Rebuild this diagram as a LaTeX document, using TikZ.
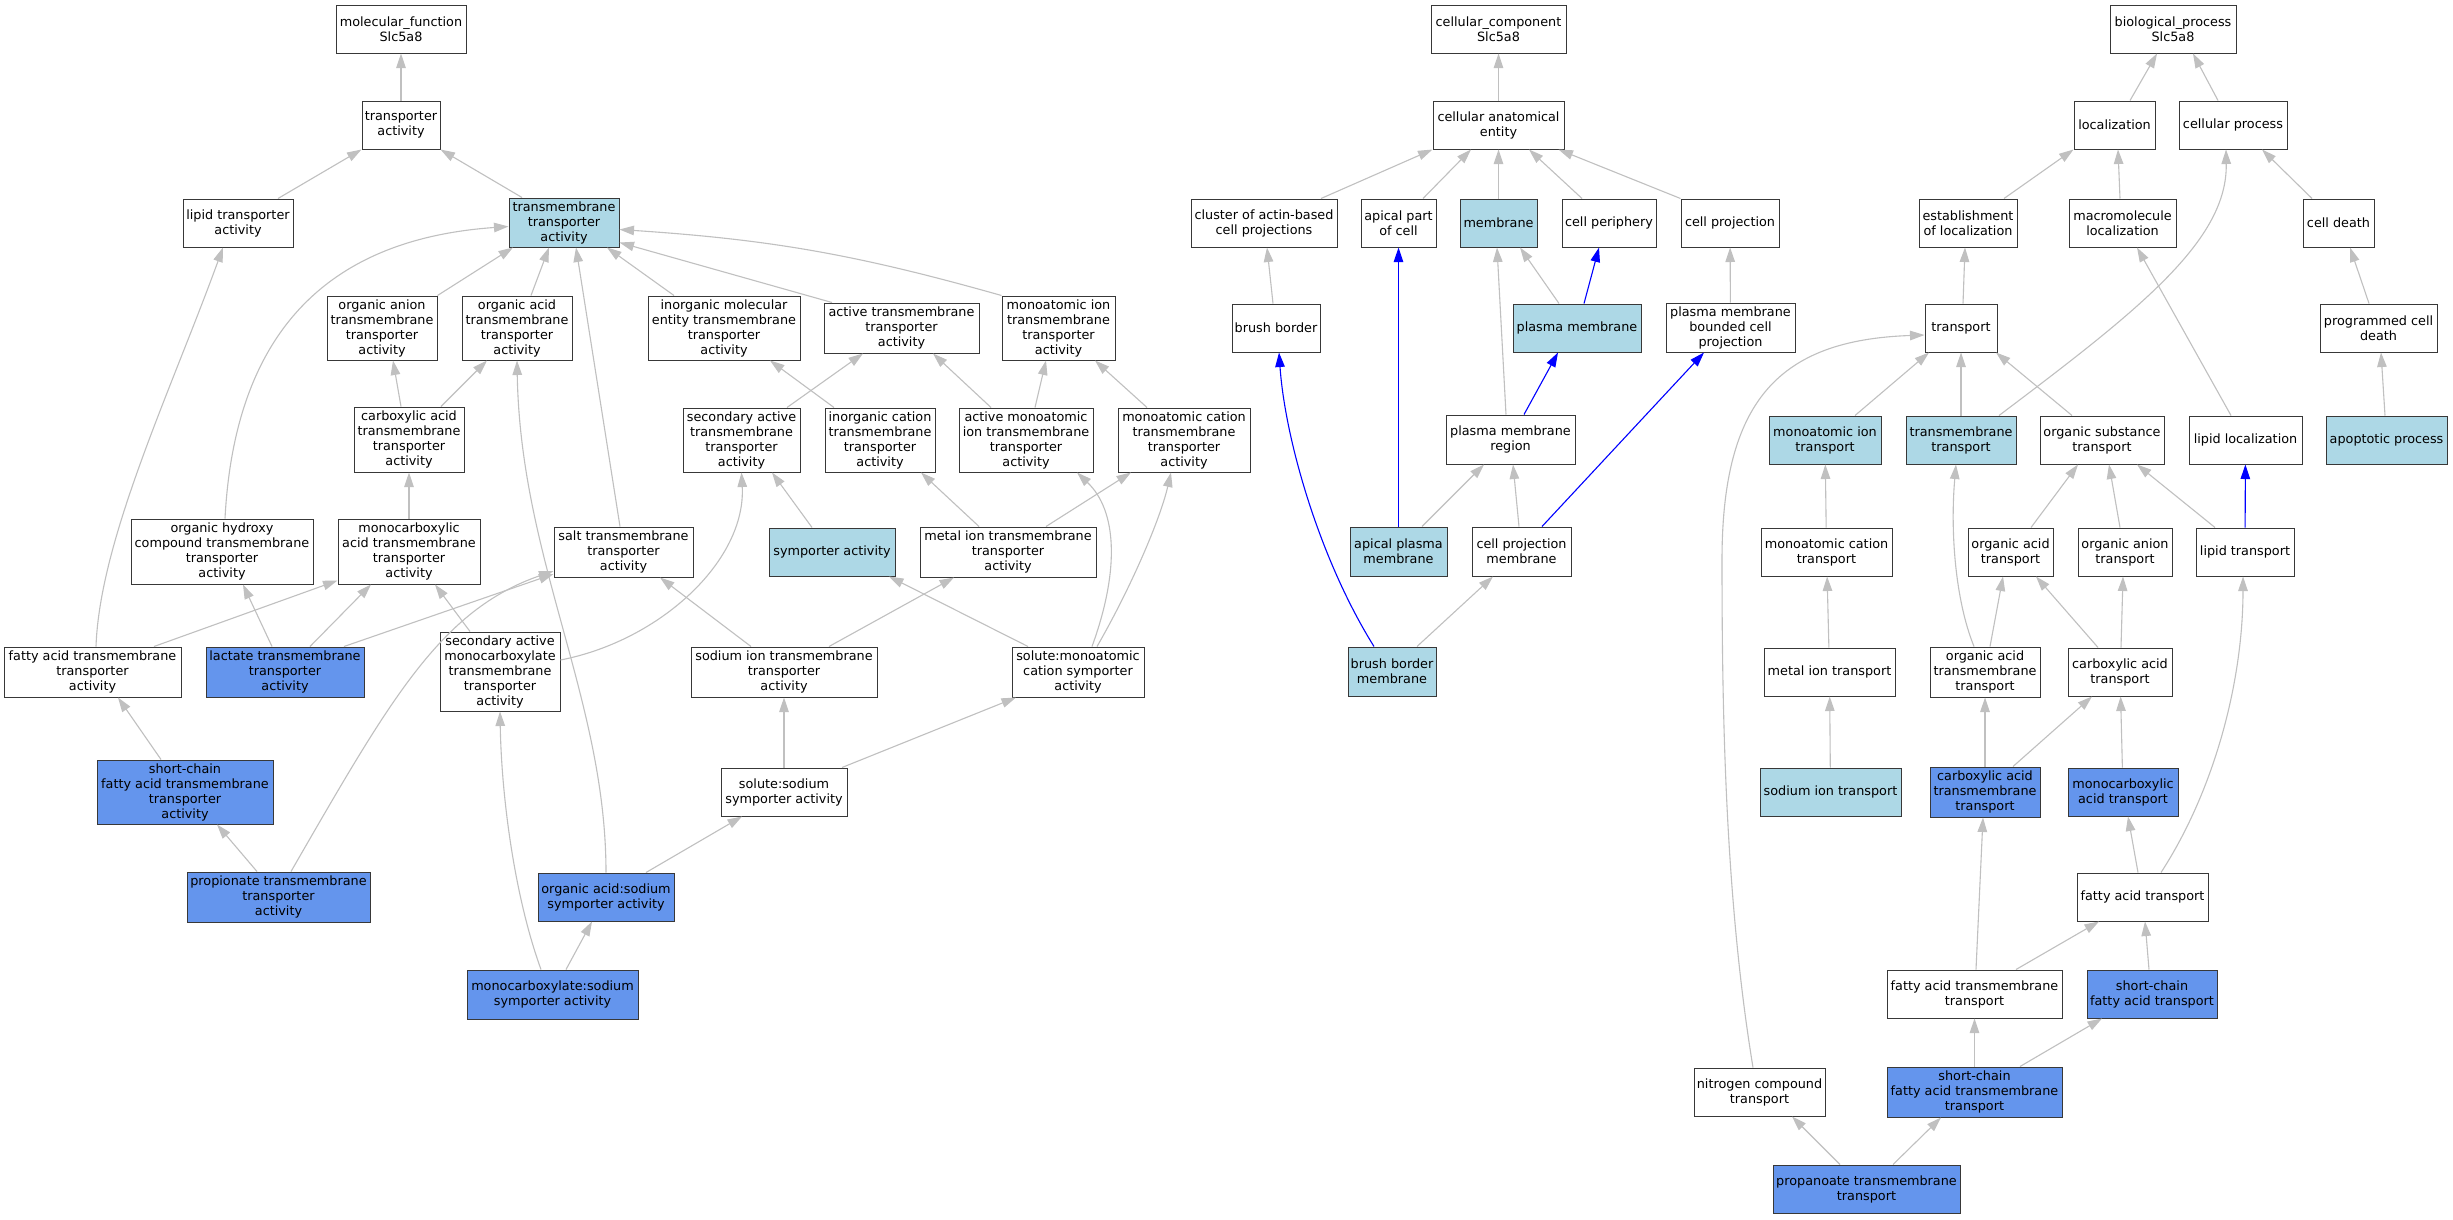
\documentclass[tikz,border=0pt]{standalone}
\usepackage{fontspec}
\newfontfamily\dejavu{DejaVu Sans}
\usetikzlibrary{arrows.meta}
\definecolor{lightblue}{HTML}{ADD8E6}
\definecolor{cornflower}{HTML}{6495ED}
\definecolor{linkgray}{HTML}{C0C0C0}
\begin{document}
\begin{tikzpicture}[x=1pt, y=1pt,
  term/.style={rectangle, draw=black!78, line width=1pt, fill=white, align=center, inner sep=1pt, font=\dejavu\fontsize{12.8}{15}\selectfont},
  box/.style 2 args={minimum width=#1pt, minimum height=#2pt},
  hit/.style={term, fill=lightblue},
  own/.style={term, fill=cornflower},
  link/.style={color=linkgray, line width=1.1pt, -{Triangle[length=14.5pt, width=9.5pt]}},
  part/.style={link, color=blue}]
\fill[white] (0,0) rectangle (2453,-1219);
\useasboundingbox (0,0) rectangle (2453,-1219);

\node[term, box={130}{48}] (mf) at (401,-29) {molecular\_function\\Slc5a8};
\node[term, box={78}{48}] (ta) at (401,-125) {transporter\\activity};
\node[term, box={110}{48}] (lta) at (238,-223) {lipid transporter\\activity};
\node[hit, box={110}{49}] (tta) at (564,-222.5) {transmembrane\\transporter\\activity};
\node[term, box={110}{64}] (oan) at (382,-328) {organic anion\\transmembrane\\transporter\\activity};
\node[term, box={110}{64}] (oac) at (517,-328) {organic acid\\transmembrane\\transporter\\activity};
\node[term, box={152}{64}] (ime) at (724,-328) {inorganic molecular\\entity transmembrane\\transporter\\activity};
\node[term, box={155}{50}] (atta) at (901.5,-328) {active transmembrane\\transporter\\activity};
\node[term, box={113}{64}] (mitta) at (1058.5,-328) {monoatomic ion\\transmembrane\\transporter\\activity};
\node[term, box={110}{65}] (cac) at (409,-439.5) {carboxylic acid\\transmembrane\\transporter\\activity};
\node[term, box={117}{64}] (sat) at (741.5,-440) {secondary active\\transmembrane\\transporter\\activity};
\node[term, box={110}{64}] (ictta) at (880,-440) {inorganic cation\\transmembrane\\transporter\\activity};
\node[term, box={134}{64}] (amitta) at (1026,-440) {active monoatomic\\ion transmembrane\\transporter\\activity};
\node[term, box={132}{64}] (mctta) at (1184,-440) {monoatomic cation\\transmembrane\\transporter\\activity};
\node[term, box={182}{65}] (ohc) at (222,-551.5) {organic hydroxy\\compound transmembrane\\transporter\\activity};
\node[term, box={142}{65}] (mca) at (409,-551.5) {monocarboxylic\\acid transmembrane\\transporter\\activity};
\node[term, box={139}{50}] (salt) at (623.5,-552) {salt transmembrane\\transporter\\activity};
\node[hit, box={126}{48}] (sym) at (832,-552) {symporter activity};
\node[term, box={176}{50}] (metal) at (1008,-552) {metal ion transmembrane\\transporter\\activity};
\node[term, box={177}{50}] (fatta) at (92.5,-672) {fatty acid transmembrane\\transporter\\activity};
\node[own, box={158}{50}] (lac) at (285,-672) {lactate transmembrane\\transporter\\activity};
\node[term, box={120}{79}] (samc) at (500,-671.5) {secondary active\\monocarboxylate\\transmembrane\\transporter\\activity};
\node[term, box={186}{50}] (sodtta) at (784,-672) {sodium ion transmembrane\\transporter\\activity};
\node[term, box={132}{50}] (smc) at (1078,-672) {solute:monoatomic\\cation symporter\\activity};
\node[own, box={176}{64}] (scfa) at (185,-792) {short-chain\\fatty acid transmembrane\\transporter\\activity};
\node[term, box={126}{48}] (ssod) at (784,-792) {solute:sodium\\symporter activity};
\node[own, box={183}{50}] (prop) at (278.5,-897) {propionate transmembrane\\transporter\\activity};
\node[own, box={136}{48}] (oas) at (606,-897) {organic acid:sodium\\symporter activity};
\node[own, box={171}{49}] (mcs) at (552.5,-994.5) {monocarboxylate:sodium\\symporter activity};

\node[term, box={135}{48}] (cc) at (1498.5,-29) {cellular\_component\\Slc5a8};
\node[term, box={131}{48}] (cae) at (1498.5,-125) {cellular anatomical\\entity};
\node[term, box={146}{48}] (cab) at (1264,-223) {cluster of actin-based\\cell projections};
\node[term, box={75}{48}] (apc) at (1398.5,-223) {apical part\\of cell};
\node[hit, box={77}{48}] (mem) at (1498.5,-223) {membrane};
\node[term, box={94}{48}] (cp) at (1609,-223) {cell periphery};
\node[term, box={98}{48}] (cproj) at (1730,-223) {cell projection};
\node[term, box={88}{48}] (bb) at (1276,-328) {brush border};
\node[hit, box={128}{48}] (pm) at (1577,-328) {plasma membrane};
\node[term, box={129}{49}] (pmbcp) at (1730.5,-327.5) {plasma membrane\\bounded cell\\projection};
\node[term, box={129}{49}] (pmr) at (1510.5,-439.5) {plasma membrane\\region};
\node[hit, box={97}{49}] (apm) at (1398.5,-551.5) {apical plasma\\membrane};
\node[term, box={99}{49}] (cpm) at (1521.5,-551.5) {cell projection\\membrane};
\node[hit, box={88}{49}] (bbm) at (1392,-671.5) {brush border\\membrane};

\node[term, box={126}{48}] (bp) at (2173,-29) {biological\_process\\Slc5a8};
\node[term, box={81}{48}] (loc) at (2114.5,-125) {localization};
\node[term, box={108}{48}] (cpr) at (2233,-125) {cellular process};
\node[term, box={98}{48}] (eol) at (1968,-223) {establishment\\of localization};
\node[term, box={107}{48}] (mml) at (2122.5,-223) {macromolecule\\localization};
\node[term, box={71}{48}] (cd) at (2338.5,-223) {cell death};
\node[term, box={72}{48}] (tr) at (1961,-328) {transport};
\node[term, box={117}{48}] (pcd) at (2378.5,-328) {programmed cell\\death};
\node[hit, box={112}{48}] (mit) at (1825,-440) {monoatomic ion\\transport};
\node[hit, box={110}{48}] (tmt) at (1961,-440) {transmembrane\\transport};
\node[term, box={124}{48}] (ost) at (2102,-440) {organic substance\\transport};
\node[term, box={113}{48}] (lloc) at (2245.5,-440) {lipid localization};
\node[hit, box={121}{48}] (apo) at (2386.5,-440) {apoptotic process};
\node[term, box={131}{48}] (mct) at (1826.5,-552) {monoatomic cation\\transport};
\node[term, box={85}{48}] (oat) at (2010.5,-552) {organic acid\\transport};
\node[term, box={94}{48}] (oant) at (2125,-552) {organic anion\\transport};
\node[term, box={98}{48}] (lt) at (2245,-552) {lipid transport};
\node[term, box={131}{48}] (mt) at (1829.5,-672) {metal ion transport};
\node[term, box={110}{50}] (oatt) at (1985,-672) {organic acid\\transmembrane\\transport};
\node[term, box={104}{48}] (cat) at (2120,-672) {carboxylic acid\\transport};
\node[hit, box={141}{48}] (sit) at (1830.5,-792) {sodium ion transport};
\node[own, box={110}{50}] (catt) at (1985,-792) {carboxylic acid\\transmembrane\\transport};
\node[own, box={110}{48}] (mcat) at (2123,-792) {monocarboxylic\\acid transport};
\node[term, box={131}{48}] (fat) at (2142.5,-897) {fatty acid transport};
\node[term, box={175}{48}] (fatt) at (1974.5,-994) {fatty acid transmembrane\\transport};
\node[own, box={130}{48}] (scfat) at (2152,-994) {short-chain\\fatty acid transport};
\node[term, box={131}{48}] (nct) at (1759.5,-1092) {nitrogen compound\\transport};
\node[own, box={175}{50}] (scfatt) at (1974.5,-1092) {short-chain\\fatty acid transmembrane\\transport};
\node[own, box={187}{48}] (ptt) at (1866.5,-1189) {propanoate transmembrane\\transport};

\path[link]
    (ta) edge (mf)
    ([xshift=40pt]lta.north) edge (ta.south west)
    ([xshift=-42pt]tta.north) edge (ta.south east)
    (oan.north east) edge ([xshift=-51pt]tta.south)
    ([xshift=14pt]oac.north) edge ([xshift=-15pt]tta.south)
    ([xshift=-50pt]ime.north) edge ([xshift=43pt]tta.south)
    ([xshift=-69.5pt]atta.north) edge ([yshift=-20pt]tta.east)
    (mitta.north west) edge[bend right=6] ([yshift=-7pt]tta.east)
    ([xshift=3pt]ohc.north) edge[out=87, in=184, out distance=189pt, in distance=179pt] ([yshift=-4pt]tta.west)
    ([xshift=-3.5pt]salt.north) edge ([xshift=12pt]tta.south)
    ([xshift=-8pt]cac.north) edge ([xshift=11pt]oan.south)
    ([xshift=32pt]cac.north) edge ([xshift=-30pt]oac.south)
    (mca) edge (cac)
    (oas.north) edge[out=90, in=-89, out distance=173pt, in distance=200pt] (oac.south)
    ([xshift=3.5pt]fatta.north) edge[out=88, in=-110, out distance=107pt, in distance=152pt] ([xshift=-15pt]lta.south)
    ([xshift=61.5pt]fatta.north) edge ([yshift=4pt]mca.south west)
    ([xshift=-13pt]lac.north) edge ([xshift=21pt]ohc.south)
    ([xshift=25pt]lac.north) edge ([xshift=-38pt]mca.south)
    ([xshift=59pt]lac.north) edge ([yshift=-22pt]salt.west)
    ([xshift=-30pt]samc.north) edge ([xshift=26pt]mca.south)
    ([yshift=11.5pt]samc.east) edge[out=11, in=-87, out distance=102pt, in distance=88pt] (sat.south)
    ([xshift=-21.5pt]prop.north) edge ([xshift=32pt]scfa.south)
    ([xshift=12.5pt]prop.north) edge[out=60, in=199, out distance=198pt, in distance=120pt] ([yshift=-19pt]salt.west)
    ([xshift=-24pt]scfa.north) edge ([xshift=25.5pt]fatta.south)
    ([xshift=-33pt]sodtta.north) edge ([xshift=36.5pt]salt.south)
    ([xshift=45pt]sodtta.north) edge ([xshift=-54pt]metal.south)
    ([xshift=-50pt]smc.north) edge ([xshift=57pt]sym.south)
    ([xshift=14pt]smc.north) edge[out=70, in=-43.5, out distance=82pt, in distance=55pt] ([xshift=51pt]amitta.south)
    ([xshift=19pt]smc.north) edge[out=60, in=-103, out distance=66pt, in distance=49pt] ([xshift=-13pt]mctta.south)
    (ssod) edge (sodtta)
    ([xshift=58pt]ssod.north) edge ([xshift=-62pt]smc.south)
    ([xshift=40pt]oas.north) edge ([xshift=-42pt]ssod.south)
    ([xshift=13.5pt]mcs.north) edge ([xshift=-14pt]oas.south)
    ([xshift=-11.5pt]mcs.north) edge[out=110, in=-89, out distance=75pt, in distance=89pt] (samc.south)
    ([xshift=-20pt]sym.north) edge ([xshift=30.5pt]sat.south)
    ([xshift=-29pt]metal.north) edge ([xshift=41pt]ictta.south)
    ([xshift=38pt]metal.north) edge ([xshift=-53pt]mctta.south)
    ([xshift=45.5pt]sat.north) edge ([xshift=-38.5pt]atta.south)
    ([xshift=-46pt]ictta.north) edge ([xshift=46pt]ime.south)
    ([xshift=-35pt]amitta.north) edge ([xshift=31.5pt]atta.south)
    ([xshift=9pt]amitta.north) edge ([xshift=-12.5pt]mitta.south)
    ([xshift=-37pt]mctta.north) edge ([xshift=36.5pt]mitta.south)
         ;

\path[link]
    (cae) edge (cc)
    ([xshift=57pt]cab.north) edge (cae.south west)
    ([xshift=24.5pt]apc.north) edge ([xshift=-27.5pt]cae.south)
    (mem) edge (cae)
    ([xshift=-27pt]cp.north) edge ([xshift=30.5pt]cae.south)
    (cproj.north west) edge ([xshift=60pt]cae.south)
    ([xshift=-3pt]bb.north) edge ([xshift=3pt]cab.south)
    ([xshift=-18pt]pm.north) edge ([xshift=21.5pt]mem.south)
    (pmbcp) edge (cproj)
    ([xshift=-4.5pt]pmr.north) edge ([xshift=-1.5pt]mem.south)
    ([xshift=23.5pt]apm.north) edge ([xshift=-26.5pt]pmr.south)
    ([xshift=-2.5pt]cpm.north) edge ([xshift=2.5pt]pmr.south)
    ([xshift=25pt]bbm.north) edge ([xshift=-28.5pt]cpm.south)
         ;
\path[part]
    ([xshift=7pt]pm.north) edge ([xshift=-10pt]cp.south)
    ([xshift=13.5pt]pmr.north) edge ([xshift=-19pt]pm.south)
    (apm) edge (apc)
    ([xshift=20.5pt]cpm.north) edge ([xshift=-26.5pt]pmbcp.south)
    ([xshift=-18pt]bbm.north) edge[out=122, in=-86, out distance=102pt, in distance=88pt] ([xshift=3pt]bb.south)
    (lt) edge (lloc)
         ;

\path[link]
    ([xshift=15.5pt]loc.north) edge ([xshift=-16pt]bp.south)
    ([xshift=-15pt]cpr.north) edge ([xshift=20pt]bp.south)
    ([xshift=36pt]eol.north) edge (loc.south west)
    ([xshift=-2.5pt]mml.north) edge ([xshift=3.5pt]loc.south)
    ([xshift=-26.5pt]cd.north) edge ([xshift=29pt]cpr.south)
    ([xshift=2pt]tr.north) edge ([xshift=-3pt]eol.south)
    ([xshift=-9.5pt]pcd.north) edge ([xshift=11.5pt]cd.south)
    ([xshift=-1.5pt]apo.north) edge ([xshift=2.5pt]pcd.south)
    ([xshift=30pt]mit.north) edge ([xshift=-32pt]tr.south)
    (tmt) edge (tr)
    ([xshift=38pt]tmt.north) edge[out=37, in=-89, out distance=176pt, in distance=91pt] ([xshift=-7pt]cpr.south)
    ([xshift=-30pt]ost.north) edge ([xshift=35pt]tr.south)
    ([xshift=-14.5pt]lloc.north) edge ([xshift=14.5pt]mml.south)
    (mct) edge (mit)
    (mt) edge (mct)
    (sit) edge (mt)
    ([xshift=20.5pt]oat.north) edge ([xshift=-24pt]ost.south)
    ([xshift=-5pt]oant.north) edge ([xshift=7pt]ost.south)
    ([xshift=-30pt]lt.north) edge ([xshift=35pt]ost.south)
    ([xshift=-11pt]oatt.north) edge[out=112, in=-95, out distance=51pt, in distance=66pt] ([xshift=-5pt]tmt.south)
    ([xshift=5pt]oatt.north) edge ([xshift=-7.5pt]oat.south)
    ([xshift=-22pt]cat.north) edge ([xshift=25.5pt]oat.south)
    ([xshift=1pt]cat.north) edge ([xshift=-2pt]oant.south)
    (catt) edge (oatt)
    ([xshift=28pt]catt.north) edge ([xshift=-28pt]cat.south)
    (mcat) edge (cat)
    ([xshift=-4.5pt]fat.north) edge ([xshift=5pt]mcat.south)
    ([xshift=18.5pt]fat.north) edge[out=57, in=-90, out distance=99pt, in distance=104pt] ([xshift=-2pt]lt.south)
    ([xshift=1.5pt]fatt.north) edge ([xshift=-2pt]catt.south)
    ([xshift=41.5pt]fatt.north) edge ([xshift=-43.5pt]fat.south)
    ([xshift=-3pt]scfat.north) edge ([xshift=2.5pt]fat.south)
    (scfatt) edge (fatt)
    ([xshift=45.5pt]scfatt.north) edge ([xshift=-50pt]scfat.south)
    ([xshift=-26.5pt]ptt.north) edge ([xshift=32.5pt]nct.south)
    ([xshift=26.5pt]ptt.north) edge ([xshift=-33.5pt]scfatt.south)
         ;
\draw[link] ([xshift=-6.5pt]nct.north) .. controls +(-28,170) and +(0,-150) .. (1722,-560)
    .. controls +(0,160) and +(-145,-5) .. ([yshift=-7pt]tr.west);
\end{tikzpicture}
\end{document}
